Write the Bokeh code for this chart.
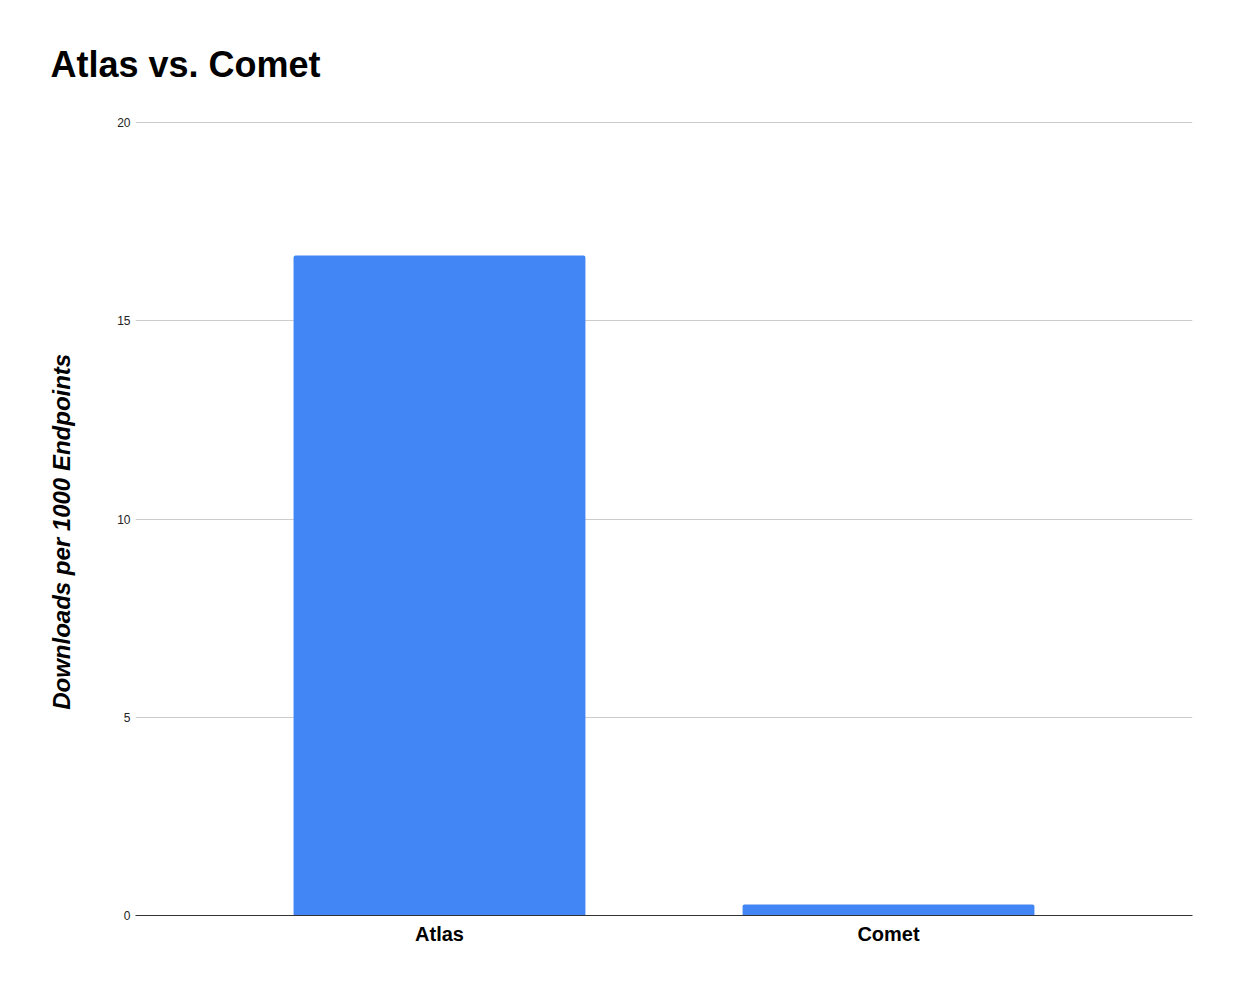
from bokeh.plotting import figure
from bokeh.models import FactorRange, Range1d, ColumnDataSource, FixedTicker
from bokeh.embed import file_html
from bokeh.resources import INLINE

categories = ["Atlas", "Comet"]
values = [16.65, 0.28]
y_ticks = [0, 5, 10, 15, 20]

source = ColumnDataSource(data=dict(cat=categories, val=values))

p = figure(
    x_range=FactorRange(factors=categories, range_padding=0.177, range_padding_units="absolute"),
    y_range=Range1d(0, 20.03),
    width=1228, height=978,
    frame_width=1057, frame_height=794,
    min_border_left=135, min_border_right=36, min_border_top=121, min_border_bottom=63,
    output_backend="svg", toolbar_location=None,
    title="Atlas vs. Comet",
)
p.outline_line_color = None
p.background_fill_color = "white"
p.border_fill_color = "white"

p.title.text_font = "Liberation Sans"
p.title.text_font_size = "36px"
p.title.text_font_style = "bold"
p.title.text_color = "#000000"
p.title.offset = -85
p.title.standoff = 73

p.vbar(x="cat", top="val", width=0.65, source=source, fill_color="#4285F4",
       line_color=None, border_radius=(2, 2, 0, 0))

p.xgrid.grid_line_color = None
p.ygrid.grid_line_color = "#cccccc"
p.ygrid.ticker = FixedTicker(ticks=y_ticks)

p.yaxis.ticker = FixedTicker(ticks=y_ticks)
p.yaxis.axis_line_color = None
p.yaxis.major_tick_line_color = None
p.yaxis.minor_tick_line_color = None
p.yaxis.major_tick_out = 0
p.yaxis.minor_tick_out = 0
p.yaxis.major_label_text_font = "Liberation Sans"
p.yaxis.major_label_text_font_size = "12px"
p.yaxis.major_label_text_color = "#222222"
p.yaxis.major_label_standoff = 5
p.yaxis.axis_label = "Downloads per 1000 Endpoints\u00a0\u00a0\u00a0\u00a0"
p.yaxis.axis_label_text_font = "Liberation Sans"
p.yaxis.axis_label_text_font_size = "24px"
p.yaxis.axis_label_text_font_style = "bold italic"
p.yaxis.axis_label_text_color = "#000000"
p.yaxis.axis_label_standoff = 39

p.xaxis.axis_line_color = "#333333"
p.xaxis.axis_line_width = 1
p.xaxis.major_tick_line_color = None
p.xaxis.minor_tick_line_color = None
p.xaxis.major_tick_out = 0
p.xaxis.minor_tick_out = 0
p.xaxis.major_label_text_font = "Liberation Sans"
p.xaxis.major_label_text_font_size = "20px"
p.xaxis.major_label_text_font_style = "bold"
p.xaxis.major_label_text_color = "#000000"
p.xaxis.major_label_standoff = 7

open("out.html", "w").write(file_html(p, INLINE))
